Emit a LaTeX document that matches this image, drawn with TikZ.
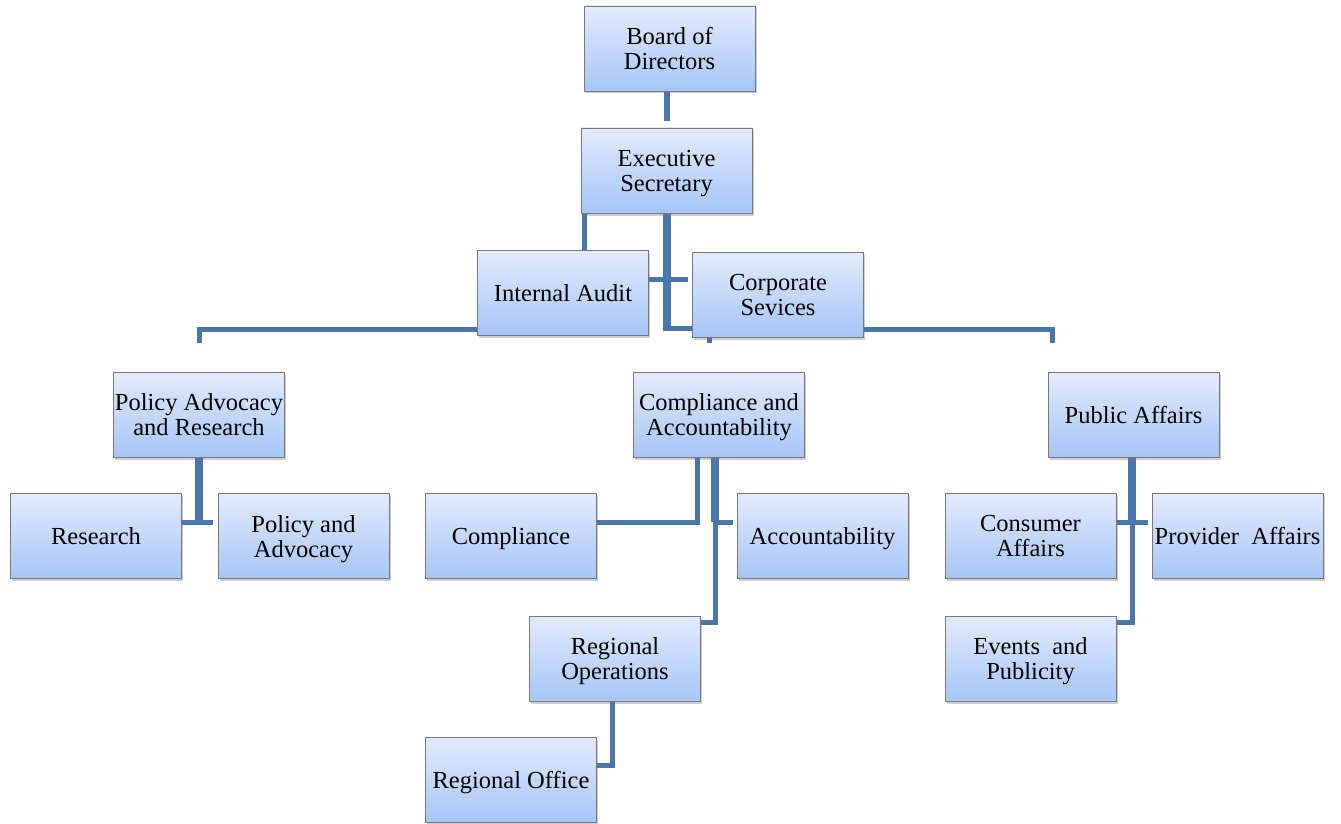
\documentclass[tikz,border=0pt]{standalone}
\usepackage{fontspec}
\setmainfont{Liberation Serif}
\usetikzlibrary{shadows,backgrounds}
\definecolor{conn}{RGB}{74,118,172}
\definecolor{boxtop}{RGB}{226,235,252}
\definecolor{boxbot}{RGB}{166,197,247}
\definecolor{boxline}{RGB}{120,120,120}
\begin{document}
\begin{tikzpicture}[x=1pt,y=-1pt,
  unit/.style={rectangle, draw=boxline, line width=0.9pt,
    top color=boxtop, bottom color=boxbot,
    minimum width=171pt, minimum height=85pt, inner sep=0pt,
    align=center, font=\fontsize{24.5}{25}\selectfont, text depth=0pt,
    drop shadow={shadow xshift=1.5pt, shadow yshift=-2.5pt, opacity=0.35, fill=black!55}},
  link/.style={draw=conn, line width=5pt, line join=miter},
  trunk/.style={link, line width=8pt}]
\useasboundingbox (0,0) rectangle (1341,824);

% boxes
\node[unit] (board)      at (669.5,48.5)  {Board of\\Directors};
\node[unit] (exec)       at (666.5,170.5) {Executive\\Secretary};
\node[unit] (audit)      at (563,293)     {Internal Audit};
\node[unit] (corp)       at (778,294.5)   {Corporate\\Sevices};
\node[unit] (par)        at (199,414.5)   {Policy Advocacy\\and Research};
\node[unit] (research)   at (96,536)      {Research};
\node[unit] (pa)         at (303.5,536)   {Policy and\\Advocacy};
\node[unit] (ca)         at (719,414.5)   {Compliance and\\Accountability};
\node[unit] (compliance) at (511,536)     {Compliance};
\node[unit] (account)    at (822.5,536)   {Accountability};
\node[unit] (regops)     at (615,658.5)   {Regional\\Operations};
\node[unit] (regoffice)  at (511,780)     {Regional Office};
\node[unit] (public)     at (1133.5,414.5){Public Affairs};
\node[unit] (consumer)   at (1030.5,536)  {Consumer\\Affairs};
\node[unit] (provider)   at (1237.5,536)  {Provider\ \ Affairs};
\node[unit] (events)     at (1030.5,658.5){Events\ \ and\\Publicity};

% reference lines for the connector routes
\coordinate (xB) at (584,0);
\coordinate (yC) at (0,328);
\coordinate (yD) at (0,279);
\coordinate (xD) at (688,0);
\coordinate (yF) at (0,329.5);
\coordinate (caStub) at (709,343);
\coordinate (parStub) at (199,343);
\coordinate (pubStub) at (1052,343);
\coordinate (yK) at (0,522);
\coordinate (yH) at (0,524);
\coordinate (xH) at (213,0);
\coordinate (xI) at (697,0);
\coordinate (xJ) at (715,0);
\coordinate (yJ) at (0,622);
\coordinate (xK) at (733,0);
\coordinate (xL) at (612,0);
\coordinate (yL) at (0,765);
\coordinate (xM) at (1132,0);
\coordinate (xN) at (1148,0);

\begin{scope}[on background layer]
  % top of the chart
  \draw[link, line width=6pt] (exec.north |- board.south) -- ([yshift=7pt]exec.north);
  \draw[link] (exec.south -| xB) -- (audit.north -| xB);
  \draw[trunk] (exec.south) -- (exec.south |- yC);
  \draw[link] ([xshift=-4pt]exec.south |- yC) -- (corp.west |- yC);
  \draw[link] (audit.east |- yD) -- (xD |- yD);
  \draw[link] (corp.south -| caStub) -- (caStub);
  \draw[link] (audit.west |- yF) -| (parStub);
  \draw[link] (corp.east |- yF) -| (pubStub);

  % policy advocacy and research
  \draw[trunk] (par.south) -- (par.south |- yH);
  \draw[link] (research.east |- yK) -- (xH |- yK);

  % compliance and accountability
  \draw[link] (ca.south -| xI) |- (compliance.east |- yK);
  \draw[trunk] (ca.south -| xJ) -- (xJ |- yK);
  \draw[link] (xJ |- yK) |- (regops.east |- yJ);
  \draw[link] (xJ |- yK) -- (xK |- yK);
  \draw[link] (regops.south -| xL) |- (regoffice.east |- yL);

  % public affairs
  \draw[trunk] (public.south -| xM) -- (xM |- yK);
  \draw[link] (xM |- yK) |- (events.east |- yJ);
  \draw[link] (consumer.east |- yK) -- (xN |- yK);
\end{scope}
\end{tikzpicture}
\end{document}
